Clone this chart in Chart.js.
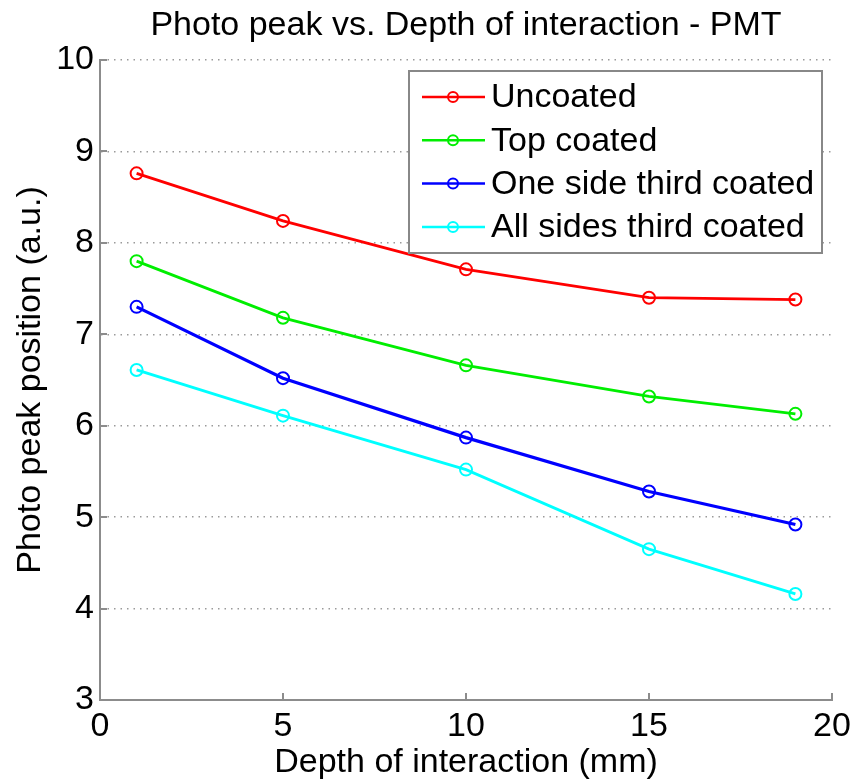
<!DOCTYPE html>
<html>
<head>
<meta charset="utf-8">
<script src="https://cdn.jsdelivr.net/npm/chart.js@4/dist/chart.umd.min.js"></script>
<style>
  html, body { margin: 0; padding: 0; background: #fff; }
  #wrap { width: 850px; height: 780px; }
</style>
</head>
<body>
<div id="wrap"><canvas id="c" width="850" height="780"></canvas></div>
<script>
// Depth of interaction (mm)
const depths = [1, 5, 10, 15, 19];
// Photo peak position (a.u.) per crystal treatment
const uncoated   = [8.76, 8.24, 7.71, 7.40, 7.38];
const topCoated  = [7.80, 7.18, 6.66, 6.32, 6.13];
const oneSide    = [7.30, 6.52, 5.87, 5.28, 4.92];
const allSides   = [6.61, 6.11, 5.52, 4.65, 4.16];

const seriesLabels = ['Uncoated', 'Top coated', 'One side third coated', 'All sides third coated'];
const seriesColors = ['#ff0000', '#00ee00', '#0000ff', '#00ffff'];
const xTicks = [0, 5, 10, 15, 20];
const yTicks = [3, 4, 5, 6, 7, 8, 9, 10];

const titleText = 'Photo peak vs. Depth of interaction - PMT';
const FONT = '"Liberation Sans", Arial, sans-serif';
const AXIS_GREY = '#8c8c8c';

function toPoints(vals) {
  return depths.map((d, i) => ({ x: d, y: vals[i] }));
}

const allSeries = [uncoated, topCoated, oneSide, allSides];
const datasets = allSeries.map((vals, i) => ({
  label: seriesLabels[i],
  data: toPoints(vals),
  borderColor: seriesColors[i],
  backgroundColor: 'rgba(0,0,0,0)',
  borderWidth: i === 2 ? 3.2 : 2.8,
  tension: 0,
  pointRadius: 6,
  pointHoverRadius: 6,
  pointBorderWidth: 2,
  pointBackgroundColor: 'rgba(0,0,0,0)',
  pointBorderColor: seriesColors[i]
}));

// Title centred over the plot area, inward axis ticks and a boxed legend
const decorations = {
  id: 'decorations',
  afterDraw(chart) {
    const { ctx, chartArea: a, scales } = chart;
    ctx.save();

    // title
    ctx.fillStyle = '#000';
    ctx.font = '34px ' + FONT;
    ctx.textAlign = 'center';
    ctx.textBaseline = 'alphabetic';
    ctx.fillText(titleText, (a.left + a.right) / 2, 35);

    // inward ticks
    ctx.strokeStyle = AXIS_GREY;
    ctx.lineWidth = 2;
    const tl = 7;
    ctx.beginPath();
    xTicks.forEach(v => {
      const px = Math.round(scales.x.getPixelForValue(v));
      ctx.moveTo(px, a.bottom);
      ctx.lineTo(px, a.bottom - tl);
    });
    yTicks.forEach(v => {
      const py = Math.round(scales.y.getPixelForValue(v));
      ctx.moveTo(a.left, py);
      ctx.lineTo(a.left + tl, py);
    });
    ctx.stroke();

    // legend box
    const bx = 409, by = 71, bw = 413, bh = 182;
    ctx.fillStyle = '#fff';
    ctx.fillRect(bx, by, bw, bh);
    ctx.strokeStyle = '#888';
    ctx.lineWidth = 2;
    ctx.strokeRect(bx, by, bw, bh);

    ctx.font = '34px ' + FONT;
    ctx.textAlign = 'left';
    ctx.textBaseline = 'middle';
    chart.data.datasets.forEach((ds, i) => {
      const ry = 97 + i * 43.3;
      ctx.strokeStyle = ds.borderColor;
      ctx.lineWidth = 2.5;
      ctx.beginPath();
      ctx.moveTo(422, ry);
      ctx.lineTo(485, ry);
      ctx.stroke();
      ctx.lineWidth = 2;
      ctx.beginPath();
      ctx.arc(453, ry, 5, 0, Math.PI * 2);
      ctx.stroke();
      ctx.fillStyle = '#000';
      ctx.fillText(ds.label, 491, ry + 1);
    });

    ctx.restore();
  }
};

new Chart(document.getElementById('c'), {
  type: 'line',
  data: { datasets },
  plugins: [decorations],
  options: {
    responsive: false,
    animation: false,
    devicePixelRatio: 1,
    layout: { padding: { top: 60, right: 18, left: 0, bottom: 0 } },
    plugins: {
      legend: { display: false },
      title: { display: false },
      tooltip: { enabled: false }
    },
    scales: {
      x: {
        type: 'linear',
        min: 0,
        max: 20,
        afterFit(scale) {
          scale.height = 80;
          scale.paddingLeft = 0;
          scale.paddingRight = 0;
        },
        afterBuildTicks(scale) { scale.ticks = xTicks.map(v => ({ value: v })); },
        grid: { display: false, drawTicks: false },
        border: { display: true, color: AXIS_GREY, width: 2 },
        ticks: {
          color: '#000',
          padding: 6,
          maxRotation: 0,
          font: { family: FONT, size: 34 }
        },
        title: {
          display: true,
          text: 'Depth of interaction (mm)',
          color: '#000',
          padding: 0,
          font: { family: FONT, size: 34, lineHeight: 1 }
        }
      },
      y: {
        type: 'linear',
        min: 3,
        max: 10,
        afterFit(scale) { scale.width = 100; },
        afterBuildTicks(scale) { scale.ticks = yTicks.map(v => ({ value: v })); },
        grid: {
          display: true,
          drawTicks: false,
          color: '#9a9a9a',
          lineWidth: 1.5
        },
        border: { display: true, color: AXIS_GREY, width: 2, dash: [1.5, 5] },
        ticks: {
          color: '#000',
          padding: 6,
          font: { family: FONT, size: 34 }
        },
        title: {
          display: true,
          text: 'Photo peak position (a.u.)',
          color: '#000',
          padding: { top: 14 },
          font: { family: FONT, size: 34, lineHeight: 1 }
        }
      }
    }
  }
});
</script>
</body>
</html>
